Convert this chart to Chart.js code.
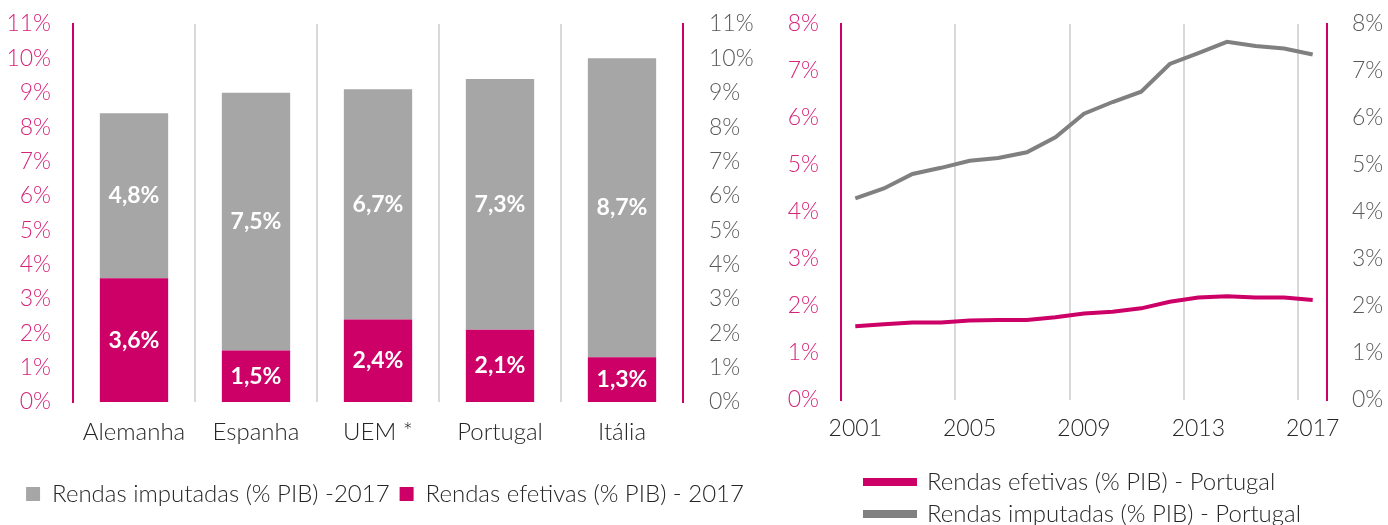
<!DOCTYPE html>
<html>
<head>
<meta charset="utf-8">
<script src="https://cdn.jsdelivr.net/npm/chart.js@4.4.1/dist/chart.umd.min.js"></script>
<style>
  html, body { margin: 0; padding: 0; background: #fff; }
  .box { position: absolute; top: 0; height: 525px; }
</style>
</head>
<body>
<div class="box" style="left:0;width:770px"><canvas id="bars"></canvas></div>
<div class="box" style="left:770px;width:618px"><canvas id="lines"></canvas></div>
<script>
"use strict";

// ── Data ───────────────────────────────────────────────────────────────────
const countries     = ["Alemanha", "Espanha", "UEM *", "Portugal", "Itália"];
const efetivas2017  = [3.6, 1.5, 2.4, 2.1, 1.3];
const imputadas2017 = [4.8, 7.5, 6.7, 7.3, 8.7];

const years       = ["2001", "2002", "2003", "2004", "2005", "2006", "2007", "2008", "2009",
                     "2010", "2011", "2012", "2013", "2014", "2015", "2016", "2017"];
const efetivasPT  = [1.57, 1.61, 1.65, 1.65, 1.69, 1.70, 1.70, 1.76, 1.84,
                     1.88, 1.95, 2.09, 2.18, 2.21, 2.18, 2.18, 2.13];
const imputadasPT = [4.29, 4.50, 4.81, 4.94, 5.09, 5.15, 5.27, 5.59, 6.09,
                     6.34, 6.56, 7.15, 7.38, 7.62, 7.53, 7.48, 7.35];

const BAR_MAX = 11;   // 0% … 11%
const LINE_MAX = 8;   // 0% … 8%

// ── Colours / fonts ────────────────────────────────────────────────────────
const PINK      = "#cc0066";
const PINK_TEXT = "#d6247a";
const GREY_BAR  = "#a6a6a6";
const GREY_LINE = "#808080";
const GREY_TEXT = "#595959";
const GRID      = "#d9d9d9";
const FONT      = "Lato, 'Open Sans', sans-serif";

Chart.defaults.font.family = FONT;
Chart.defaults.font.weight = "300";
Chart.defaults.color = "#262626";

const pct = (v) => v + "%";
const fmt = (v) => v.toFixed(1).replace(".", ",") + "%";

// ── Plugins ────────────────────────────────────────────────────────────────
const barLabels = {
  id: "barLabels",
  afterDatasetsDraw(chart) {
    const ctx = chart.ctx;
    ctx.save();
    ctx.font = "bold 23px " + FONT;
    ctx.fillStyle = "#fff";
    ctx.textAlign = "center";
    ctx.textBaseline = "middle";
    chart.data.datasets.forEach((ds, i) => {
      chart.getDatasetMeta(i).data.forEach((bar, j) => {
        const { x, y, base } = bar.getProps(["x", "y", "base"], true);
        ctx.fillText(fmt(ds.data[j]), x, (y + base) / 2);
      });
    });
    ctx.restore();
  },
};

// move the legend box to a fixed spot once the layout is done
const legendPos = {
  id: "legendPos",
  afterLayout(chart, args, opts) {
    const lg = chart.legend;
    if (opts.left != null) {
      const w = lg.right - lg.left;
      lg.left = opts.left;
      lg.right = opts.left + w;
    }
    if (opts.top != null) {
      const h = lg.bottom - lg.top;
      lg.top = opts.top;
      lg.bottom = opts.top + h;
    }
  },
};

// y axes: fixed width, no extra room above/below for the end labels
const fixY = (w) => (scale) => {
  scale.width = w;
  scale.paddingTop = 0;
  scale.paddingBottom = 0;
};
// x axis: sized so that the plot bottom lands on `bottom`
const fixX = (bottom) => (scale) => {
  const lg = scale.chart.legend;
  const lgH = lg && lg.height ? lg.height : 0;
  scale.height = scale.chart.height - lgH - bottom;
};

// ── Left: stacked bars ─────────────────────────────────────────────────────
new Chart(document.getElementById("bars"), {
  type: "bar",
  data: {
    labels: countries,
    datasets: [
      { label: "Rendas efetivas (% PIB) - 2017", data: efetivas2017, backgroundColor: PINK },
      { label: "Rendas imputadas (% PIB) -2017", data: imputadas2017, backgroundColor: GREY_BAR },
    ],
  },
  options: {
    responsive: true,
    maintainAspectRatio: false,
    animation: false,
    barPercentage: 0.56,
    categoryPercentage: 1,
    layout: { padding: { left: 0, right: 0, top: 24, bottom: 0 } },
    scales: {
      x: {
        stacked: true,
        afterFit: fixX(402),
        grid: {
          offset: true,
          drawTicks: false,
          lineWidth: 2,
          color: (c) => (c.index > 0 ? GRID : "transparent"),
        },
        border: { display: false },
        ticks: { padding: 16, font: { size: 24 }, color: "#262626" },
      },
      y: {
        stacked: true,
        min: 0,
        max: BAR_MAX,
        afterFit: fixY(73),
        grid: { display: false, drawTicks: false },
        border: { color: PINK, width: 2 },
        ticks: { stepSize: 1, autoSkip: false, padding: 22, font: { size: 23 }, color: PINK_TEXT, callback: pct },
      },
      y2: {
        position: "right",
        min: 0,
        max: BAR_MAX,
        afterFit: fixY(87),
        grid: { display: false, drawTicks: false },
        border: { color: PINK, width: 2 },
        ticks: { stepSize: 1, autoSkip: false, padding: 26, font: { size: 23 }, color: GREY_TEXT, callback: pct },
      },
    },
    plugins: {
      legend: {
        position: "bottom",
        reverse: true,
        labels: { boxWidth: 14, boxHeight: 14, padding: 10, font: { size: 24 }, color: "#262626" },
      },
      legendPos: { top: 472 },
      tooltip: { enabled: false },
    },
  },
  plugins: [barLabels, legendPos],
});

// ── Right: Portugal time series ────────────────────────────────────────────
new Chart(document.getElementById("lines"), {
  type: "line",
  data: {
    labels: years,
    datasets: [
      {
        label: "Rendas efetivas (% PIB) - Portugal",
        data: efetivasPT,
        borderColor: PINK,
        backgroundColor: PINK,
        borderWidth: 4,
        pointRadius: 0,
        tension: 0,
      },
      {
        label: "Rendas imputadas (% PIB) - Portugal",
        data: imputadasPT,
        borderColor: GREY_LINE,
        backgroundColor: GREY_LINE,
        borderWidth: 4,
        pointRadius: 0,
        tension: 0,
      },
    ],
  },
  options: {
    responsive: true,
    maintainAspectRatio: false,
    animation: false,
    layout: { padding: { left: 0, right: 0, top: 24, bottom: 0 } },
    scales: {
      x: {
        offset: true,
        afterFit: fixX(400),
        grid: {
          offset: true,
          drawTicks: false,
          lineWidth: 2,
          color: (c) => (c.index > 0 && c.index % 4 === 0 ? GRID : "transparent"),
        },
        border: { display: false },
        ticks: {
          autoSkip: false,
          maxRotation: 0,
          padding: 15,
          font: { size: 23 },
          color: "#262626",
          callback: (v, i) => (i % 4 === 0 ? years[i] : ""),
        },
      },
      y: {
        min: 0,
        max: LINE_MAX,
        afterFit: fixY(71),
        grid: { display: false, drawTicks: false },
        border: { color: PINK, width: 2 },
        ticks: { stepSize: 1, autoSkip: false, padding: 22, font: { size: 23 }, color: PINK_TEXT, callback: pct },
      },
      y2: {
        position: "right",
        min: 0,
        max: LINE_MAX,
        afterFit: fixY(61),
        grid: { display: false, drawTicks: false },
        border: { color: PINK, width: 2 },
        ticks: { stepSize: 1, autoSkip: false, padding: 25, font: { size: 23 }, color: GREY_TEXT, callback: pct },
      },
    },
    plugins: {
      legend: {
        position: "bottom",
        align: "start",
        labels: { boxWidth: 50, boxHeight: 4, padding: 8, font: { size: 24 }, color: "#262626" },
      },
      legendPos: { left: 87, top: 462 },
      tooltip: { enabled: false },
    },
  },
  plugins: [legendPos],
});
</script>
</body>
</html>
